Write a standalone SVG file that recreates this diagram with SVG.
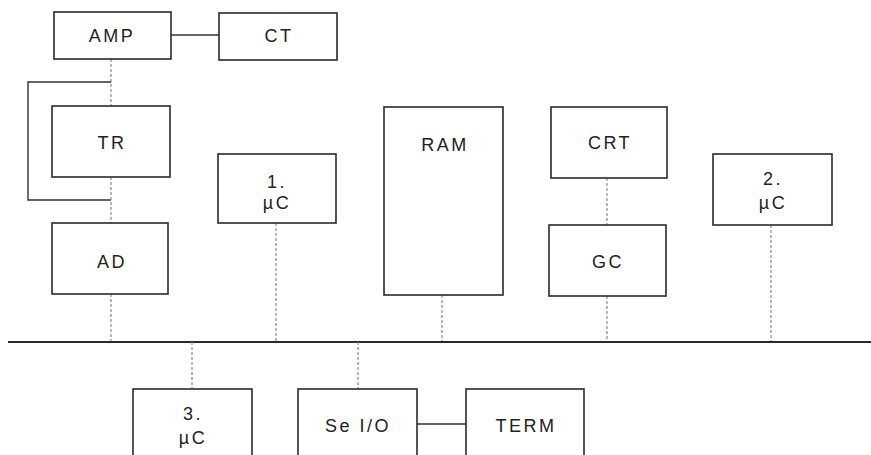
<svg xmlns="http://www.w3.org/2000/svg" width="871" height="455" viewBox="0 0 871 455">
<style>
.box{fill:#fff;stroke:#2a2a2a;stroke-width:1.6}
.t{font-family:"Liberation Sans",Arial,sans-serif;font-size:18px;fill:#222;text-anchor:middle;letter-spacing:2.5px}
.s{fill:none;stroke:#333;stroke-width:1.4}
.d{fill:none;stroke:#8a8a8a;stroke-width:1.2;stroke-dasharray:3 2}
.bus{fill:none;stroke:#2a2a2a;stroke-width:1.8}
</style>
<rect width="871" height="455" fill="#fff"/>
<g id="connectors">
<line class="s" x1="171" y1="35" x2="219" y2="35"/>
<line class="d" x1="111" y1="59" x2="111" y2="106"/>
<polyline class="s" points="111,82 28,82 28,200 111,200"/>
<line class="d" x1="111" y1="177" x2="111" y2="223"/>
<line class="d" x1="111" y1="294" x2="111" y2="342"/>
<line class="d" x1="276" y1="223" x2="276" y2="342"/>
<line class="d" x1="442" y1="295" x2="442" y2="342"/>
<line class="d" x1="607" y1="178" x2="607" y2="225"/>
<line class="d" x1="607" y1="296" x2="607" y2="342"/>
<line class="d" x1="771" y1="225" x2="771" y2="342"/>
<line class="bus" x1="8" y1="342" x2="871" y2="342"/>
<line class="d" x1="192" y1="342" x2="192" y2="389"/>
<line class="d" x1="358" y1="342" x2="358" y2="389"/>
<line class="s" x1="417" y1="424" x2="466" y2="424"/>
</g>
<g id="amp"><rect class="box" x="54" y="12" width="117" height="47"/><text class="t" x="112" y="42">AMP</text></g>
<g id="ct"><rect class="box" x="219" y="13" width="118" height="47"/><text class="t" x="279" y="42">CT</text></g>
<g id="tr"><rect class="box" x="52" y="106" width="118" height="71"/><text class="t" x="112" y="149">TR</text></g>
<g id="ad"><rect class="box" x="52" y="223" width="116" height="71"/><text class="t" x="112" y="268">AD</text></g>
<g id="uc1"><rect class="box" x="218" y="154" width="118" height="69"/><text class="t" x="277" y="188">1.</text><text class="t" x="277" y="209">µC</text></g>
<g id="ram"><rect class="box" x="384" y="107" width="119" height="188"/><text class="t" x="445" y="151">RAM</text></g>
<g id="crt"><rect class="box" x="551" y="107" width="116" height="71"/><text class="t" x="610" y="149">CRT</text></g>
<g id="gc"><rect class="box" x="549" y="225" width="117" height="71"/><text class="t" x="608" y="268">GC</text></g>
<g id="uc2"><rect class="box" x="713" y="154" width="119" height="71"/><text class="t" x="773" y="185">2.</text><text class="t" x="773" y="209">µC</text></g>
<g id="uc3"><rect class="box" x="133" y="389" width="119" height="80"/><text class="t" x="193" y="420">3.</text><text class="t" x="193" y="444">µC</text></g>
<g id="selio"><rect class="box" x="298" y="389" width="119" height="80"/><text class="t" x="358" y="432">Se I/O</text></g>
<g id="term"><rect class="box" x="466" y="389" width="118" height="80"/><text class="t" x="526" y="432">TERM</text></g>
</svg>
